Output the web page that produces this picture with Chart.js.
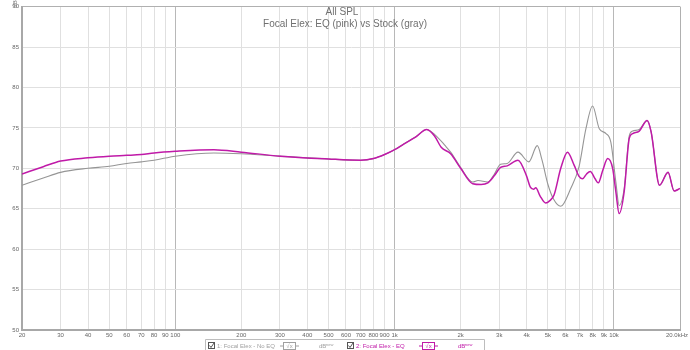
<!DOCTYPE html>
<html>
<head>
<meta charset="utf-8">
<script src="https://cdn.jsdelivr.net/npm/chart.js@4"></script>
<style>
    body { margin: 0; background: #ffffff; }
    #wrap { position: relative; width: 690px; height: 350px; }
</style>
</head>
<body>
<div id="wrap"><canvas id="chart-spl"></canvas></div>
<script>
// title lines
const titleLines = ['All SPL', 'Focal Elex: EQ (pink) vs Stock (gray)'];

// x ticks (Hz) and their labels
const freqTicks = [20, 30, 40, 50, 60, 70, 80, 90, 100, 200, 300, 400, 500, 600, 700, 800, 900,
    1000, 2000, 3000, 4000, 5000, 6000, 7000, 8000, 9000, 10000, 20000];
const freqLabels = ['20', '30', '40', '50', '60', '70', '80', '90', '100', '200', '300', '400', '500', '600', '700', '800', '900',
    '1k', '2k', '3k', '4k', '5k', '6k', '7k', '8k', '9k', '10k', '20.0kHz'];
const majorTicks = [100, 1000, 10000];

// Stock (gray)
const freqStock = [20, 25, 30, 40, 50, 60, 70, 80, 100, 150, 200, 300, 500, 700, 800, 900, 1000, 1100, 1250, 1400,
    1520, 1700, 1800, 2000, 2270, 2400, 2660, 2850, 3040, 3260, 3650, 4090, 4470, 4700, 5000, 5300, 5720,
    6350, 6930, 7450, 7990, 8570, 9200, 9680, 10200, 10560, 11130, 11740, 12170, 13040, 14160, 14770,
    16130, 17640, 18800, 20000];
const splStock = [67.9, 68.8, 69.5, 70.0, 70.25, 70.6, 70.8, 71.0, 71.5, 71.9, 71.8, 71.5, 71.15, 71.0, 71.2, 71.7, 72.3, 73.0, 73.9, 74.8,
    74.2, 72.8, 72.0, 70.1, 68.3, 68.5, 68.3, 69.3, 70.5, 70.6, 72.0, 70.8, 72.8, 71.0, 68.0, 66.2, 65.3,
    67.5, 70.2, 74.9, 77.7, 74.9, 74.3, 73.2, 68.3, 65.4, 67.5, 74.0, 74.6, 74.8, 75.9, 74.5,
    67.9, 69.5, 67.2, 67.5];

// EQ (pink)
const freqEq = [20, 25, 30, 40, 50, 60, 70, 80, 100, 150, 200, 300, 500, 700, 800, 900, 1000, 1100, 1250, 1400,
    1520, 1630, 1800, 2000, 2270, 2480, 2660, 2850, 3040, 3260, 3650, 4000, 4150, 4300, 4400, 4600, 4880,
    5100, 5330, 5720, 6140, 6580, 6930, 7190, 7500, 7800, 8200, 8480, 8900, 9360, 9860, 10200, 10560,
    11130, 11740, 12170, 13040, 14160, 14770, 16130, 17640, 18800, 20000];
const splEq = [69.3, 70.2, 70.9, 71.3, 71.5, 71.6, 71.7, 71.9, 72.1, 72.3, 72.0, 71.5, 71.15, 71.0, 71.2, 71.7, 72.3, 73.0, 73.9, 74.8,
    74.0, 72.6, 71.8, 70.0, 68.1, 68.0, 68.2, 69.1, 70.1, 70.3, 71.0, 69.0, 67.7, 67.4, 67.6, 66.6, 65.7,
    66.0, 66.7, 70.0, 72.0, 70.4, 69.0, 68.7, 69.3, 69.6, 68.7, 68.2, 69.8, 71.2, 70.0, 67.1, 64.4,
    67.1, 73.7, 74.3, 74.6, 75.9, 74.5, 67.9, 69.5, 67.2, 67.5];

// legend strip under the axis
const legendItems = [
    { label: '1: Focal Elex - No EQ', color: '#a0a0a0' },
    { label: '2: Focal Elex - EQ', color: '#c01aa8' }
];

const pinkColor = 'rgb(192, 26, 168)';
const grayColor = '#959595';
const tickFont = { size: 6, family: '"Liberation Sans", Arial, sans-serif' };
const lastTick = freqLabels.length - 1;

const toPoints = (fs, vs) => fs.map((f, i) => ({ x: f, y: vs[i] }));

const overlayPlugin = {
    id: 'overlay',
    afterDraw(chart) {
        const ctx = chart.ctx;
        const area = chart.chartArea;
        ctx.save();
        // titles
        ctx.fillStyle = '#707070';
        ctx.font = '10px "Liberation Sans", Arial, sans-serif';
        ctx.textAlign = 'center';
        ctx.textBaseline = 'middle';
        ctx.fillText(titleLines[0], 342, 12.5);
        ctx.fillText(titleLines[1], 345, 24);

        // last x label, kept inside the canvas
        ctx.font = '6px "Liberation Sans", Arial, sans-serif';
        ctx.fillStyle = '#666';
        ctx.textAlign = 'right';
        ctx.textBaseline = 'top';
        ctx.fillText(freqLabels[lastTick], 688, area.bottom + 2);

        // dB unit, rotated
        ctx.textAlign = 'center';
        ctx.textBaseline = 'middle';
        ctx.fillStyle = '#777';
        ctx.translate(15, 4);
        ctx.rotate(-Math.PI / 2);
        ctx.fillText('dB', 0, 0);
        ctx.restore();

        // legend box
        ctx.save();
        ctx.fillStyle = '#ffffff';
        ctx.strokeStyle = '#bdbdbd';
        ctx.lineWidth = 1;
        ctx.beginPath();
        ctx.rect(205.5, 339.5, 279, 14);
        ctx.fill();
        ctx.stroke();
        ctx.font = '6px "Liberation Sans", Arial, sans-serif';
        ctx.textBaseline = 'middle';
        legendItems.forEach((item, i) => {
            const x0 = 208 + i * 139;
            // checkbox
            ctx.strokeStyle = '#555';
            ctx.strokeRect(x0 + 0.5, 342.5, 6, 6);
            ctx.beginPath();
            ctx.moveTo(x0 + 1.5, 345.5);
            ctx.lineTo(x0 + 3, 347.5);
            ctx.lineTo(x0 + 6, 343);
            ctx.stroke();
            ctx.fillStyle = item.color;
            ctx.textAlign = 'left';
            ctx.fillText(item.label, x0 + 9, 346);
            // icon
            ctx.strokeStyle = item.color;
            ctx.strokeRect(x0 + 75.5, 342.5, 12, 7);
            ctx.beginPath();
            ctx.moveTo(x0 + 72, 346); ctx.lineTo(x0 + 75.5, 346);
            ctx.moveTo(x0 + 87.5, 346); ctx.lineTo(x0 + 91, 346);
            ctx.stroke();
            ctx.textAlign = 'center';
            ctx.fillText('√x', x0 + 81.5, 346);
            ctx.textAlign = 'left';
            ctx.fillText('dB', x0 + 111, 346.5);
            ctx.font = '4px "Liberation Sans", Arial, sans-serif';
            ctx.fillText('new', x0 + 118, 344.5);
            ctx.font = '6px "Liberation Sans", Arial, sans-serif';
        });
        ctx.restore();
    }
};

const ctx = document.getElementById('chart-spl').getContext('2d');

new Chart(ctx, {
    type: 'line',
    data: {
        datasets: [{
            label: 'Focal Elex - No EQ',
            data: toPoints(freqStock, splStock),
            borderColor: grayColor,
            borderWidth: 1.1,
            pointRadius: 0,
            cubicInterpolationMode: 'monotone',
            order: 2
        }, {
            label: 'Focal Elex - EQ',
            data: toPoints(freqEq, splEq),
            borderColor: pinkColor,
            borderWidth: 1.5,
            pointRadius: 0,
            cubicInterpolationMode: 'monotone',
            order: 1
        }]
    },
    options: {
        responsive: true,
        maintainAspectRatio: false,
        animation: false,
        layout: { padding: { top: 6, right: 10, left: 0, bottom: 0 } },
        plugins: {
            legend: { display: false },
            title: { display: false },
            tooltip: { enabled: false }
        },
        scales: {
            x: {
                type: 'logarithmic',
                min: 20,
                max: 20000,
                afterBuildTicks: (scale) => { scale.ticks = freqTicks.map(v => ({ value: v })); },
                afterFit: (scale) => {
                    scale.height = 20;
                    scale.paddingLeft = 0;
                    scale.paddingRight = 0;
                },
                ticks: {
                    autoSkip: false,
                    maxRotation: 0,
                    padding: 2,
                    color: '#666',
                    font: tickFont,
                    // last label is drawn by the overlay so it stays on the canvas
                    callback: (value, index) => index === lastTick ? '' : freqLabels[index]
                },
                grid: {
                    drawTicks: false,
                    color: (c) => {
                        const v = c.tick && c.tick.value;
                        if (v === 20000) return '#b0b0b0';
                        return majorTicks.includes(v) ? '#b8b8b8' : '#e0e0e0';
                    },
                    lineWidth: 1
                },
                border: { color: '#a8a8a8', width: 2 }
            },
            y: {
                min: 50,
                max: 90,
                afterFit: (scale) => { scale.width = 22; },
                ticks: {
                    stepSize: 5,
                    padding: 3,
                    color: '#666',
                    font: tickFont
                },
                grid: {
                    drawTicks: false,
                    color: (c) => (c.tick && c.tick.value === 90) ? '#b0b0b0' : '#e0e0e0'
                },
                border: { color: '#a8a8a8', width: 2 }
            }
        }
    },
    plugins: [overlayPlugin]
});
</script>
</body>
</html>
